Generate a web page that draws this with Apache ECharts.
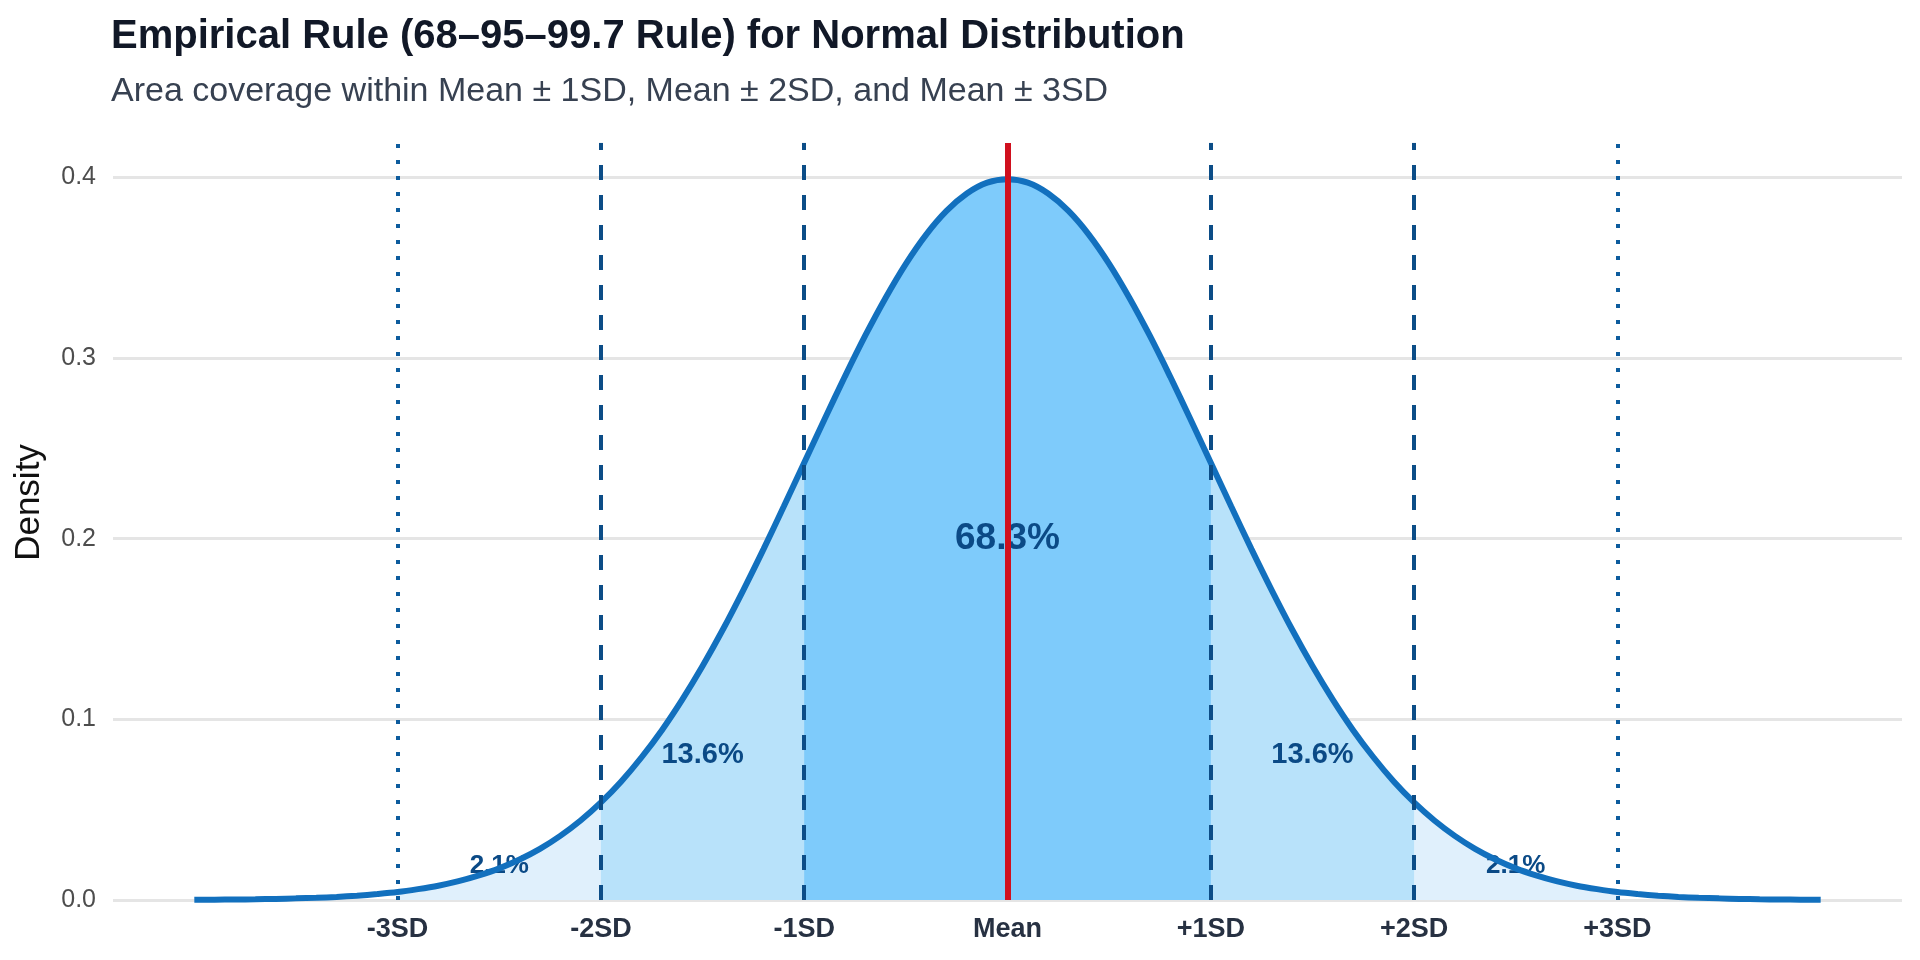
<!DOCTYPE html>
<html>
<head>
<meta charset="utf-8">
<script src="https://cdn.jsdelivr.net/npm/echarts@6/dist/echarts.min.js"></script>
<style>
  html, body { margin: 0; padding: 0; background: #fff; }
  #chart { width: 1920px; height: 960px; }
</style>
</head>
<body>
<div id="chart"></div>
<script>
// z-scores and normal density
var xs = [-4.0, -3.9, -3.8, -3.7, -3.6, -3.5, -3.4, -3.3, -3.2, -3.1,
          -3.0, -2.9, -2.8, -2.7, -2.6, -2.5, -2.4, -2.3, -2.2, -2.1,
          -2.0, -1.9, -1.8, -1.7, -1.6, -1.5, -1.4, -1.3, -1.2, -1.1,
          -1.0, -0.9, -0.8, -0.7, -0.6, -0.5, -0.4, -0.3, -0.2, -0.1,
           0.0,  0.1,  0.2,  0.3,  0.4,  0.5,  0.6,  0.7,  0.8,  0.9,
           1.0,  1.1,  1.2,  1.3,  1.4,  1.5,  1.6,  1.7,  1.8,  1.9,
           2.0,  2.1,  2.2,  2.3,  2.4,  2.5,  2.6,  2.7,  2.8,  2.9,
           3.0,  3.1,  3.2,  3.3,  3.4,  3.5,  3.6,  3.7,  3.8,  3.9, 4.0];
var density = [0.0001, 0.0002, 0.0003, 0.0004, 0.0006, 0.0009, 0.0012, 0.0017, 0.0024, 0.0033,
               0.0044, 0.0060, 0.0079, 0.0104, 0.0136, 0.0175, 0.0224, 0.0283, 0.0355, 0.0440,
               0.0540, 0.0656, 0.0790, 0.0940, 0.1109, 0.1295, 0.1497, 0.1714, 0.1942, 0.2179,
               0.2420, 0.2661, 0.2897, 0.3123, 0.3332, 0.3521, 0.3683, 0.3814, 0.3910, 0.3970,
               0.3989, 0.3970, 0.3910, 0.3814, 0.3683, 0.3521, 0.3332, 0.3123, 0.2897, 0.2661,
               0.2420, 0.2179, 0.1942, 0.1714, 0.1497, 0.1295, 0.1109, 0.0940, 0.0790, 0.0656,
               0.0540, 0.0440, 0.0355, 0.0283, 0.0224, 0.0175, 0.0136, 0.0104, 0.0079, 0.0060,
               0.0044, 0.0033, 0.0024, 0.0017, 0.0012, 0.0009, 0.0006, 0.0004, 0.0003, 0.0002, 0.0001];

var tickValues = [-3, -2, -1, 0, 1, 2, 3];
var tickLabels = ['-3SD', '-2SD', '-1SD', 'Mean', '+1SD', '+2SD', '+3SD'];

var pctText = ['68.3%', '13.6%', '13.6%', '2.1%', '2.1%'];
var pctX = [0, -1.5, 1.5, -2.5, 2.5];
var pctY = [0.2, 0.08, 0.08, 0.019, 0.019];

var sdLines = [-3, -2, -1, 0, 1, 2, 3];
var lineTop = 0.419;

var FONT = '"Liberation Sans", Arial, sans-serif';

function band(k) {
    var out = [];
    for (var i = 0; i < xs.length; i++) {
        if (xs[i] >= -k - 1e-9 && xs[i] <= k + 1e-9) out.push([xs[i], density[i]]);
    }
    return out;
}

var curve = xs.map(function (x, i) { return [x, density[i]]; });

function bandSeries(k, color) {
    return {
        type: 'line',
        data: band(k),
        smooth: 0.3,
        showSymbol: false,
        silent: true,
        z: 1,
        lineStyle: { width: 0 },
        areaStyle: { color: color, opacity: 1 }
    };
}

var lineItems = sdLines.map(function (x) {
    var style;
    if (x === 0) style = { color: '#d0101e', width: 6, type: 'solid' };
    else if (Math.abs(x) === 3) style = { color: '#0d5c9e', width: 4, type: [4, 12] };
    else style = { color: '#0c4d87', width: 4, type: [15, 15] };
    return [{ coord: [x, 0], lineStyle: style }, { coord: [x, lineTop] }];
});

var labelData = pctText.map(function (t, i) {
    var big = i === 0;
    return {
        value: [pctX[i], pctY[i]],
        label: {
            show: true,
            position: 'inside',
            formatter: t,
            color: '#0b4a86',
            opacity: 1,
            fontFamily: FONT,
            fontWeight: 'bold',
            fontSize: big ? 37 : (i < 3 ? 29 : 26)
        }
    };
});

var chart = echarts.init(document.getElementById('chart'));
var option = {
    backgroundColor: '#ffffff',
    animation: false,
    title: {
        text: 'Empirical Rule (68–95–99.7 Rule) for Normal Distribution',
        subtext: 'Area coverage within Mean ± 1SD, Mean ± 2SD, and Mean ± 3SD',
        left: 106,
        top: 12,
        itemGap: 18,
        textStyle: { fontFamily: FONT, fontWeight: 'bold', fontSize: 40, color: '#111827' },
        subtextStyle: { fontFamily: FONT, fontSize: 34, color: '#374151' }
    },
    grid: { left: 113, right: 18, top: 105, bottom: 60 },
    xAxis: {
        type: 'value',
        min: -4.4,
        max: 4.4,
        axisLine: { show: false },
        axisTick: { show: false },
        splitLine: { show: false },
        axisLabel: {
            customValues: tickValues,
            formatter: function (v) {
                var i = tickValues.indexOf(Math.round(v));
                return i >= 0 ? tickLabels[i] : '';
            },
            margin: 16,
            color: '#273142',
            fontFamily: FONT,
            fontWeight: 'bold',
            fontSize: 27
        }
    },
    yAxis: {
        type: 'value',
        min: 0,
        max: 0.44,
        interval: 0.1,
        name: 'Density',
        nameLocation: 'middle',
        nameGap: 66,
        nameTextStyle: { fontFamily: FONT, fontSize: 35, color: '#111111' },
        axisLine: { show: false },
        axisTick: { show: false },
        axisLabel: {
            showMaxLabel: false,
            formatter: function (v) { return v.toFixed(1); },
            margin: 17,
            color: '#4d4d4d',
            fontFamily: FONT,
            fontSize: 25
        },
        splitLine: { showMaxLine: false, lineStyle: { color: '#e5e5e5', width: 3 } }
    },
    series: [
        bandSeries(3, '#e0f0fc'),
        bandSeries(2, '#b8e2fa'),
        bandSeries(1, '#7ecbfb'),
        {
            type: 'scatter',
            data: labelData,
            symbolSize: 0,
            silent: true,
            itemStyle: { opacity: 1 },
            z: 2
        },
        {
            type: 'line',
            data: curve,
            smooth: 0.3,
            showSymbol: false,
            silent: true,
            z: 3,
            lineStyle: { color: '#1270be', width: 6 }
        },
        {
            type: 'line',
            data: [],
            silent: true,
            z: 4,
            markLine: {
                silent: true,
                symbol: 'none',
                label: { show: false },
                animation: false,
                data: lineItems
            }
        }
    ]
};
chart.setOption(option);
</script>
</body>
</html>
